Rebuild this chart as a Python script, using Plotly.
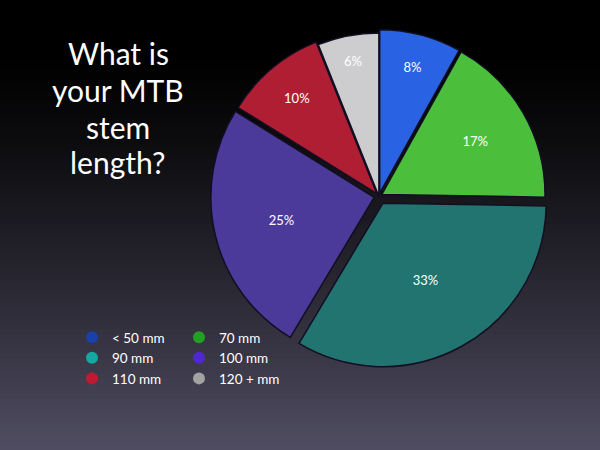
import plotly.graph_objects as go

labels = ["< 50 mm", "70 mm", "90 mm", "100 mm", "110 mm", "120 + mm"]
values = [8, 17, 33, 25, 10, 6]
slice_colors = ["#2a62e4", "#4bbf3c", "#227470", "#4b3a9a", "#b01e34", "#cdcdd0"]
legend_colors = ["#1a40aa", "#22a022", "#16a8a0", "#5028d0", "#c01a30", "#a2a2a2"]
pulls = [0.02, 0.02, 0.05, 0.03, 0.02, 0.0]
title_lines = ["What is", "your MTB", "stem", "length?"]
legend_col = [1, 2, 1, 2, 1, 2]

fig = go.Figure()

fig.add_trace(go.Pie(
    labels=labels, values=values, sort=False, direction="clockwise", rotation=0,
    marker=dict(colors=slice_colors, line=dict(color="#120f22", width=1.5)),
    pull=pulls, texttemplate="%{value}%", textposition="inside",
    insidetextorientation="horizontal",
    textfont=dict(color="white", size=13, family="Lato"),
    showlegend=False, hoverinfo="label+percent",
    domain=dict(x=[0.345, 0.918], y=[0.183, 0.945]),
))

for lab, col, lg in zip(labels, legend_colors, legend_col):
    fig.add_trace(go.Scatter(
        x=[None], y=[None], mode="markers", name=lab,
        marker=dict(symbol="circle", size=15, color=col),
        showlegend=True, legend="legend" if lg == 1 else "legend2",
    ))

# background gradient
shapes = []
N = 90
end = (80, 77, 98)
for i in range(N):
    t0 = i / N
    t1 = (i + 1) / N
    tm = (t0 + t1) / 2  # fraction from top
    s = max(0.0, (tm - 0.12) / 0.88) ** 1.25
    c = tuple(int(round(e * s)) for e in end)
    shapes.append(dict(
        type="rect", xref="paper", yref="paper", x0=0, x1=1,
        y0=1 - t1 - 0.002, y1=1 - t0 + 0.002,
        fillcolor="rgb(%d,%d,%d)" % c, line=dict(width=0), layer="below",
    ))

annotations = []
ys = [53, 90, 127, 162]
for line, yp in zip(title_lines, ys):
    annotations.append(dict(
        text=line, x=118 / 600, y=1 - yp / 450, xref="paper", yref="paper",
        xanchor="center", yanchor="middle", showarrow=False,
        font=dict(family="Lato", size=30, color="white"),
    ))

legend_style = dict(
    orientation="v", yanchor="top", xanchor="left",
    font=dict(family="Lato", size=13.5, color="white"),
    bgcolor="rgba(0,0,0,0)", itemsizing="constant", tracegroupgap=0,
)

fig.update_layout(
    width=600, height=450,
    margin=dict(l=0, r=0, t=0, b=0),
    paper_bgcolor="black", plot_bgcolor="rgba(0,0,0,0)",
    shapes=shapes, annotations=annotations,
    xaxis=dict(visible=False), yaxis=dict(visible=False),
    legend=dict(x=72 / 600, y=1 - 322 / 450, **legend_style),
    legend2=dict(x=179 / 600, y=1 - 322 / 450, **legend_style),
)

fig.write_html("out.html", config={"displayModeBar": False},
               post_script="document.body.style.margin='0';")
